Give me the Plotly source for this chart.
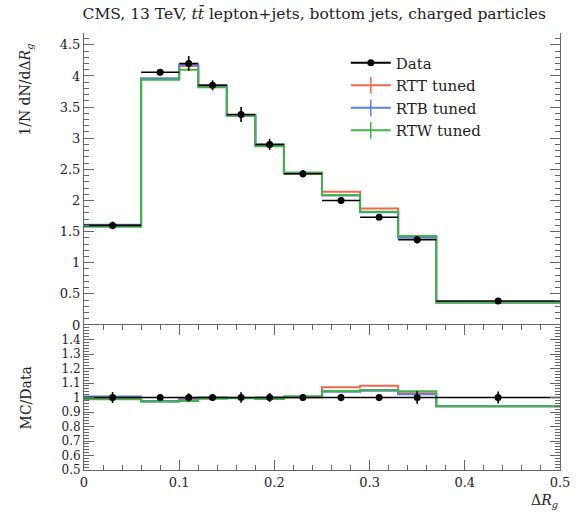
import plotly.graph_objects as go

bin_edges = [0.0, 0.06, 0.10, 0.12, 0.15, 0.18, 0.21, 0.25, 0.29, 0.33, 0.37, 0.50]
data_vals = [1.60, 4.06, 4.20, 3.85, 3.38, 2.90, 2.43, 2.00, 1.73, 1.37, 0.385]
data_errs = [0.06, 0.05, 0.12, 0.08, 0.12, 0.09, 0.06, 0.05, 0.04, 0.06, 0.016]
rtt_vals = [1.59, 3.96, 4.16, 3.84, 3.37, 2.89, 2.43, 2.14, 1.87, 1.41, 0.362]
rtb_vals = [1.61, 3.96, 4.18, 3.85, 3.37, 2.90, 2.44, 2.08, 1.81, 1.40, 0.362]
rtw_vals = [1.58, 3.94, 4.10, 3.82, 3.36, 2.87, 2.45, 2.09, 1.82, 1.43, 0.362]

mc_series = [("RTT tuned", rtt_vals, "#f0674f"),
             ("RTB tuned", rtb_vals, "#5b7fe0"),
             ("RTW tuned", rtw_vals, "#3fb44a")]

centers = [(a + b) / 2 for a, b in zip(bin_edges[:-1], bin_edges[1:])]
halfw = [(b - a) / 2 for a, b in zip(bin_edges[:-1], bin_edges[1:])]

FONT = "DejaVu Serif"
TXT = "#222"
fig = go.Figure()

for name, vals, col in mc_series:
    fig.add_trace(go.Scatter(x=bin_edges, y=vals + [vals[-1]], mode="lines",
                             line=dict(color=col, width=2, shape="hv"),
                             showlegend=False, xaxis="x", yaxis="y2", hoverinfo="skip"))
    ratio = [m / d for m, d in zip(vals, data_vals)]
    fig.add_trace(go.Scatter(x=bin_edges, y=ratio + [ratio[-1]], mode="lines",
                             line=dict(color=col, width=2, shape="hv"),
                             showlegend=False, xaxis="x", yaxis="y", hoverinfo="skip"))

fig.add_trace(go.Scatter(x=centers, y=data_vals, mode="markers",
                         marker=dict(color="black", size=7),
                         error_x=dict(type="data", array=halfw, color="black", thickness=1.6, width=0),
                         error_y=dict(type="data", array=data_errs, color="black", thickness=1.6, width=0),
                         showlegend=False, xaxis="x", yaxis="y2"))
fig.add_trace(go.Scatter(x=centers, y=[1.0] * len(centers), mode="markers",
                         marker=dict(color="black", size=7),
                         error_x=dict(type="data", array=halfw, color="black", thickness=1.6, width=0),
                         error_y=dict(type="data", array=[e / d for e, d in zip(data_errs, data_vals)],
                                      color="black", thickness=1.6, width=0),
                         showlegend=False, xaxis="x", yaxis="y"))

fig.add_trace(go.Scatter(x=[None], y=[None], mode="lines+markers", name="Data",
                         line=dict(color="black", width=2), marker=dict(color="black", size=7),
                         xaxis="x", yaxis="y2"))
for name, vals, col in mc_series:
    fig.add_trace(go.Scatter(x=[None], y=[None], mode="lines+markers", name=name,
                             line=dict(color=col, width=2),
                             marker=dict(symbol="line-ns", size=12, line=dict(color=col, width=1.5)),
                             xaxis="x", yaxis="y2"))

split = 145 / 437
axis_common = dict(showline=True, linecolor="#666", linewidth=1, mirror="ticks",
                   ticks="inside", tickcolor="#666", showgrid=False, zeroline=False,
                   tickfont=dict(family=FONT, size=13, color=TXT))

fig.update_layout(
    width=582, height=518,
    margin=dict(l=84, r=12, t=33, b=48),
    paper_bgcolor="white", plot_bgcolor="white",
    font=dict(family=FONT, size=13, color=TXT),
    title=dict(text="CMS, 13 TeV, <i>tt\u0304</i> lepton+jets, bottom jets, charged particles",
               x=0.54, xanchor="center", y=0.973, yanchor="middle",
               font=dict(family=FONT, size=15.5, color=TXT)),
    xaxis=dict(range=[0, 0.5], dtick=0.1, tick0=0, ticklen=10,
               minor=dict(ticks="inside", dtick=0.02, ticklen=5, tickcolor="#666"),
               anchor="y", **axis_common),
    yaxis=dict(domain=[0, split], range=[0.5, 1.5], tickvals=[0.5, 0.6, 0.7, 0.8, 0.9, 1.0, 1.1, 1.2, 1.3, 1.4],
               ticktext=["0.5", "0.6", "0.7", "0.8", "0.9", "1", "1.1", "1.2", "1.3", "1.4"],
               ticklen=10, minor=dict(ticks="inside", dtick=0.02, ticklen=5, tickcolor="#666"),
               tickfont=dict(family=FONT, size=12, color=TXT),
               anchor="x", **{k: v for k, v in axis_common.items() if k != "tickfont"}),
    xaxis2=dict(range=[0, 0.5], dtick=0.1, ticklen=10, showticklabels=False,
                minor=dict(ticks="inside", dtick=0.02, ticklen=5, tickcolor="#666"),
                anchor="y2", matches="x", **axis_common),
    yaxis2=dict(domain=[split, 1], range=[0, 4.69], dtick=0.5, tick0=0, ticklen=10,
                minor=dict(ticks="inside", dtick=0.1, ticklen=5, tickcolor="#666"),
                anchor="x", **axis_common),
    legend=dict(x=0.55, y=0.969, xanchor="left", yanchor="top", bgcolor="rgba(0,0,0,0)",
                font=dict(family=FONT, size=15, color=TXT), tracegroupgap=0, itemwidth=40),
    showlegend=True,
)

fig.add_annotation(text="1/N dN/d\u0394<i>R</i><sub><i>g</i></sub>", xref="paper", yref="paper",
                   x=-0.122, y=0.87, textangle=-90, showarrow=False,
                   font=dict(family=FONT, size=14, color=TXT), xanchor="center", yanchor="middle")
fig.add_annotation(text="MC/Data", xref="paper", yref="paper",
                   x=-0.122, y=split / 2, textangle=-90, showarrow=False,
                   font=dict(family=FONT, size=14, color=TXT), xanchor="center", yanchor="middle")
fig.add_annotation(text="\u0394<i>R</i><sub><i>g</i></sub>", xref="paper", yref="paper",
                   x=1.0, y=-0.045, showarrow=False, xanchor="right", yanchor="top",
                   font=dict(family=FONT, size=14, color=TXT))

fig.write_html("out.html")
